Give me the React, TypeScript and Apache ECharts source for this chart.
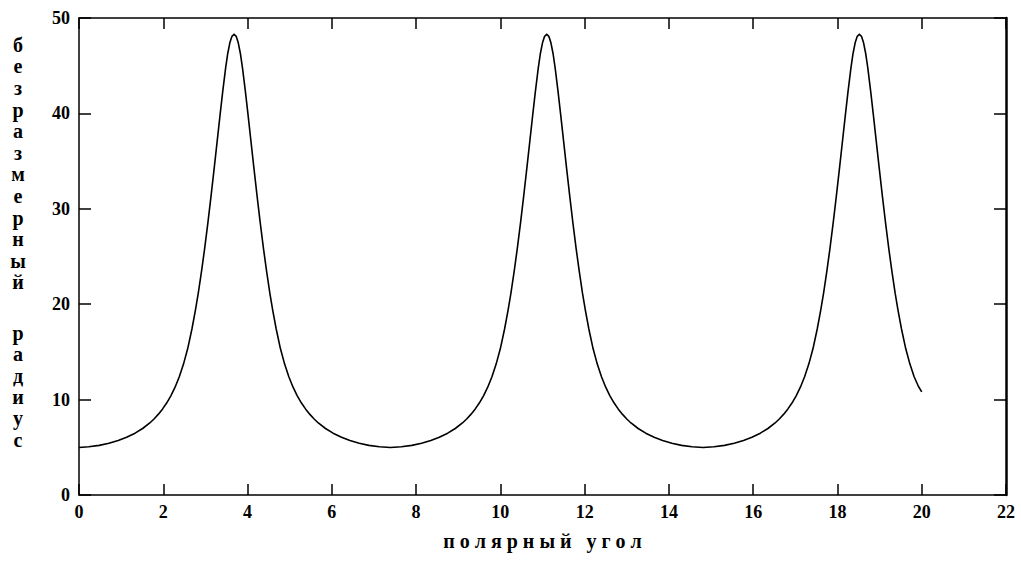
import React, { useEffect, useRef } from "react";
import * as echarts from "echarts";

// polar angle (x) and dimensionless radius (y), one lobe at a time
const angle1 = [
  0, 0.23, 0.48, 0.71, 0.93, 1.13, 1.33, 1.51, 1.68, 1.78, 1.88, 1.98, 2.08, 2.18, 2.28, 2.38, 2.48,
  2.58, 2.68, 2.76, 2.83, 2.91, 2.98, 3.06, 3.13, 3.21, 3.28, 3.35, 3.41, 3.48, 3.53, 3.58, 3.63,
  3.68,
  3.73, 3.78, 3.83, 3.88, 3.95, 4.01, 4.08, 4.15, 4.23, 4.3, 4.38, 4.45, 4.53, 4.6, 4.68, 4.78, 4.88,
  4.98, 5.08, 5.18, 5.28, 5.38, 5.48, 5.58, 5.68, 5.85, 6.03, 6.23, 6.43, 6.65, 6.88, 7.13, 7.39,
];
const radius1 = [
  4.98, 5.05, 5.2, 5.42, 5.71, 6.05, 6.48, 6.97, 7.55, 7.97, 8.45, 9.0, 9.64, 10.4, 11.3, 12.4, 13.72,
  15.35, 17.4, 19.31, 21.13, 23.53, 25.77, 28.57, 31.2, 34.32, 37.12, 39.92, 42.26, 44.78, 46.28, 47.4, 48.08,
  48.3,
  48.08, 47.4, 46.28, 44.78, 42.26, 39.92, 37.12, 34.32, 31.2, 28.57, 25.77, 23.53, 21.13, 19.31, 17.4, 15.35, 13.72,
  12.4, 11.3, 10.4, 9.64, 9.0, 8.45, 7.97, 7.55, 6.97, 6.48, 6.05, 5.71, 5.42, 5.2, 5.05, 4.98,
];

const angle2 = [
  7.65, 7.9, 8.13, 8.35, 8.55, 8.75, 8.93, 9.1, 9.2, 9.3, 9.4, 9.5, 9.6, 9.7, 9.8, 9.9,
  10.0, 10.1, 10.18, 10.25, 10.33, 10.4, 10.48, 10.55, 10.63, 10.7, 10.77, 10.83, 10.9, 10.95, 11.0, 11.05,
  11.1,
  11.15, 11.2, 11.25, 11.3, 11.37, 11.43, 11.5, 11.57, 11.65, 11.72, 11.8, 11.87, 11.95, 12.02, 12.1, 12.2, 12.3,
  12.4, 12.5, 12.6, 12.7, 12.8, 12.9, 13.0, 13.1, 13.27, 13.45, 13.65, 13.85, 14.07, 14.3, 14.55, 14.81,
];
const radius2 = [
  5.05, 5.2, 5.42, 5.71, 6.05, 6.48, 6.97, 7.55, 7.97, 8.45, 9.0, 9.64, 10.4, 11.3, 12.4, 13.72,
  15.35, 17.4, 19.31, 21.13, 23.53, 25.77, 28.57, 31.2, 34.32, 37.12, 39.92, 42.26, 44.78, 46.28, 47.4, 48.08,
  48.3,
  48.08, 47.4, 46.28, 44.78, 42.26, 39.92, 37.12, 34.32, 31.2, 28.57, 25.77, 23.53, 21.13, 19.31, 17.4, 15.35, 13.72,
  12.4, 11.3, 10.4, 9.64, 9.0, 8.45, 7.97, 7.55, 6.97, 6.48, 6.05, 5.71, 5.42, 5.2, 5.05, 4.98,
];

const angle3 = [
  15.07, 15.32, 15.55, 15.77, 15.97, 16.17, 16.35, 16.52, 16.62, 16.72, 16.82, 16.92, 17.02, 17.12, 17.22, 17.32,
  17.42, 17.52, 17.6, 17.67, 17.75, 17.82, 17.9, 17.97, 18.05, 18.12, 18.19, 18.25, 18.32, 18.37, 18.42, 18.47,
  18.52,
  18.57, 18.62, 18.67, 18.72, 18.79, 18.85, 18.92, 18.99, 19.07, 19.14, 19.22, 19.29, 19.37, 19.44, 19.52, 19.62,
  19.72, 19.82, 19.92, 20.0,
];
const radius3 = [
  5.05, 5.2, 5.42, 5.71, 6.05, 6.48, 6.97, 7.55, 7.97, 8.45, 9.0, 9.64, 10.4, 11.3, 12.4, 13.72,
  15.35, 17.4, 19.31, 21.13, 23.53, 25.77, 28.57, 31.2, 34.32, 37.12, 39.92, 42.26, 44.78, 46.28, 47.4, 48.08,
  48.3,
  48.08, 47.4, 46.28, 44.78, 42.26, 39.92, 37.12, 34.32, 31.2, 28.57, 25.77, 23.53, 21.13, 19.31, 17.4, 15.35, 13.72,
  12.4, 11.4, 10.8,
];

const xMin = 0;
const xMax = 22;
const xStep = 2;
const yMin = 0;
const yMax = 50;
const yStep = 10;

const xTitle = "п о л я р н ы й   у г о л";
const yTitleTop = ["б", "е", "з", "р", "а", "з", "м", "е", "р", "н", "ы", "й"];
const yTitleBottom = ["р", "а", "д", "и", "у", "с"];

const FONT = '"Liberation Serif", "Times New Roman", serif';

export default function App() {
  const ref = useRef<HTMLDivElement | null>(null);

  useEffect(() => {
    if (!ref.current) return;
    const chart = echarts.init(ref.current, undefined, { renderer: "svg" });

    const lineStyle = { color: "#000", width: 1.5 };
    const tickStyle = { color: "#000", width: 1.5 };
    const labelStyle = {
      color: "#000",
      fontFamily: FONT,
      fontSize: 18,
      fontWeight: "bold" as const,
    };

    const angle = [...angle1, ...angle2, ...angle3];
    const radius = [...radius1, ...radius2, ...radius3];
    const data = angle.map((a, i) => [a, radius[i]]);

    const titleStyle = {
      fill: "#000",
      fontFamily: FONT,
      fontSize: 20,
      fontWeight: "bold",
      align: "center",
      verticalAlign: "top",
    };

    chart.setOption({
      animation: false,
      backgroundColor: "#fff",
      grid: { left: 79, right: 15, top: 18, bottom: 66, containLabel: false },
      xAxis: [
        {
          type: "value",
          min: xMin,
          max: xMax,
          interval: xStep,
          position: "bottom",
          axisLine: { onZero: false, lineStyle },
          axisTick: { inside: true, length: 11, lineStyle: tickStyle },
          axisLabel: { ...labelStyle, margin: 8 },
          splitLine: { show: false },
          name: xTitle,
          nameLocation: "middle",
          nameGap: 36,
          nameTextStyle: {
            color: "#000",
            fontFamily: FONT,
            fontSize: 20,
            fontWeight: "bold",
          },
        },
        {
          type: "value",
          min: xMin,
          max: xMax,
          interval: xStep,
          position: "top",
          axisLine: { onZero: false, lineStyle },
          axisTick: { inside: true, length: 11, lineStyle: tickStyle },
          axisLabel: { show: false },
          splitLine: { show: false },
        },
      ],
      yAxis: [
        {
          type: "value",
          min: yMin,
          max: yMax,
          interval: yStep,
          position: "left",
          axisLine: { onZero: false, lineStyle },
          axisTick: { inside: true, length: 12, lineStyle: tickStyle },
          axisLabel: { ...labelStyle, margin: 9 },
          splitLine: { show: false },
        },
        {
          type: "value",
          min: yMin,
          max: yMax,
          interval: yStep,
          position: "right",
          axisLine: { onZero: false, lineStyle: { color: "#000", width: 2.5 } },
          axisTick: { inside: true, length: 12, lineStyle: tickStyle },
          axisLabel: { show: false },
          splitLine: { show: false },
        },
      ],
      series: [
        {
          type: "line",
          xAxisIndex: 0,
          yAxisIndex: 0,
          data,
          showSymbol: false,
          smooth: false,
          lineStyle: { color: "#000", width: 1.6, join: "round" },
        },
      ],
      graphic: [
        {
          type: "text",
          x: 18,
          y: 34,
          style: { ...titleStyle, text: yTitleTop.join("\n"), lineHeight: 21.6 },
        },
        {
          type: "text",
          x: 18,
          y: 322,
          style: { ...titleStyle, text: yTitleBottom.join("\n"), lineHeight: 21.4 },
        },
      ],
    });

    return () => {
      chart.dispose();
    };
  }, []);

  return (
    <div
      ref={ref}
      style={{ position: "absolute", left: 0, top: 0, width: 1021, height: 561, background: "#fff" }}
    />
  );
}
